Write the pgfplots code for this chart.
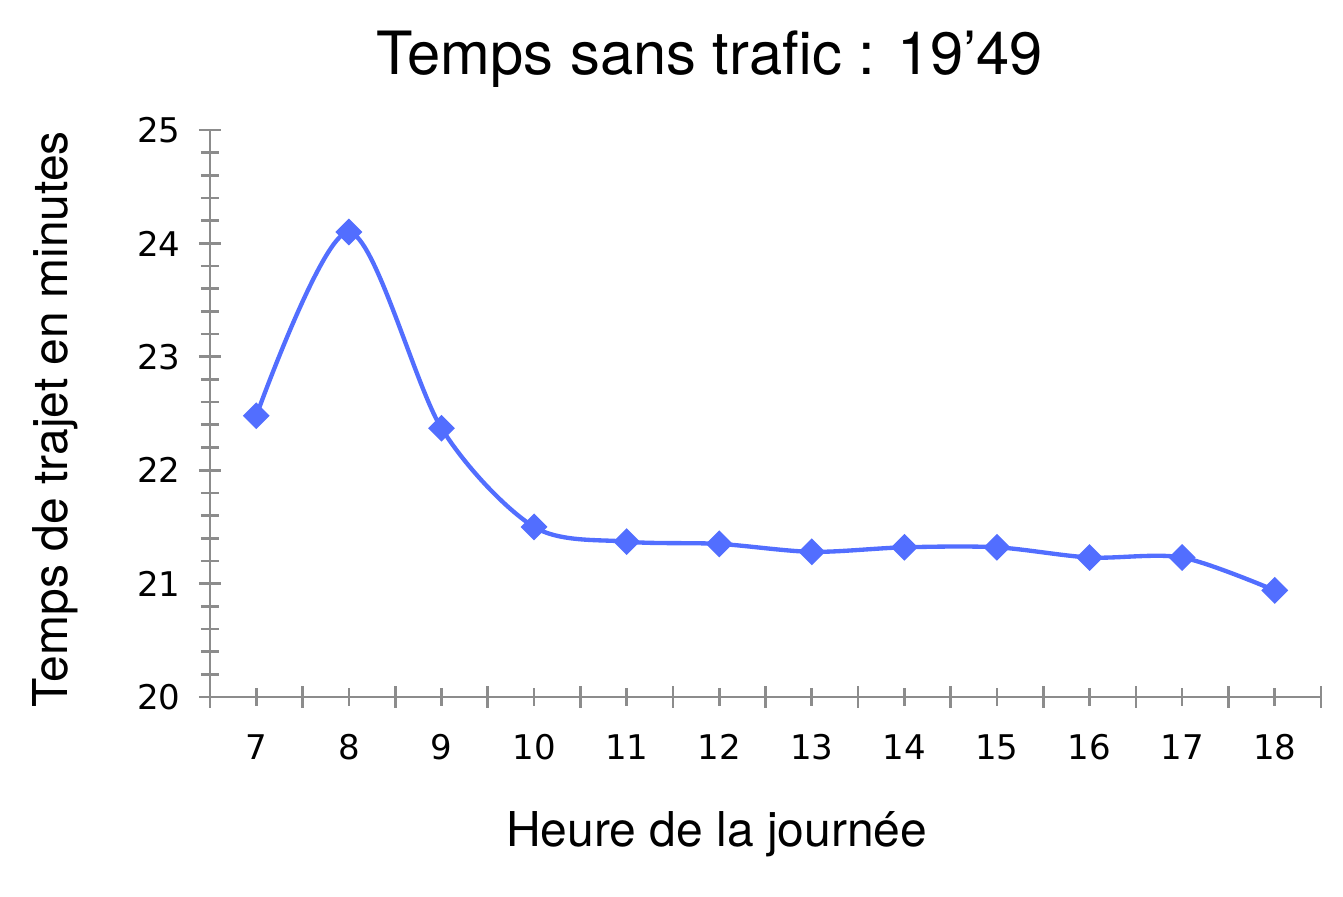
\documentclass[border=0pt]{standalone}
\usepackage{fontspec}
\setmainfont{TeX Gyre Heros}
\newfontfamily\tickfont{DejaVu Sans}
\usepackage{pgfplots}
\pgfplotsset{compat=1.18}
\definecolor{lineblue}{RGB}{82,110,255}
\definecolor{axgray}{RGB}{140,140,140}
\begin{document}
\begin{tikzpicture}
\path[use as bounding box] (-63pt,-60pt) rectangle (339.9pt,209.1pt);
\begin{axis}[
  at={(0,0)}, anchor=south west,
  scale only axis,
  width=333.3pt, height=170.1pt,
  xmin=6.5, xmax=18.5, ymin=20, ymax=25,
  axis x line*=bottom, axis y line*=left,
  axis line style={axgray, line width=0.8pt},
  every tick/.style={axgray, line width=0.8pt},
  xtick={6.5,7.5,...,18.5},
  xticklabels={},
  extra x ticks={7,8,...,18},
  extra x tick labels={7,8,9,10,11,12,13,14,15,16,17,18},
  extra x tick style={major tick length=5.4pt, tick align=center},
  ytick={20,21,...,25},
  minor ytick={20.2,20.4,...,24.9},
  tick align=center,
  major tick length=6.6pt,
  minor tick length=5.4pt,
  /pgf/number format/assume math mode=true,
  ticklabel style={font=\tickfont\fontsize{10.2}{12}\selectfont, black},
  xticklabel style={yshift=-5pt},
  yticklabel style={xshift=-2pt},
  title={Temps sans trafic : 19’49},
  title style={font=\fontsize{17.9}{20}\selectfont, at={(0.45,1)}, anchor=base, yshift=10.5pt},
  xlabel={Heure de la journée},
  xlabel style={font=\fontsize{14.4}{16}\selectfont, at={(0.456,0)}, anchor=base, yshift=-45pt},
  ylabel={Temps de trajet en minutes},
  ylabel style={font=\fontsize{14.4}{16}\selectfont, at={(0,0.49)}, anchor=center, yshift=46.5pt},
  clip=false,
]
\addplot[lineblue, line width=1.3pt, smooth, tension=0.5,
  mark=square*, mark size=2.2pt, mark options={fill=lineblue, draw=lineblue, rotate=45}]
  coordinates {
  (7,22.48) (8,24.10) (9,22.37) (10,21.50) (11,21.37) (12,21.35)
  (13,21.28) (14,21.32) (15,21.32) (16,21.23) (17,21.23) (18,20.94)
  };
\end{axis}
\end{tikzpicture}
\end{document}
